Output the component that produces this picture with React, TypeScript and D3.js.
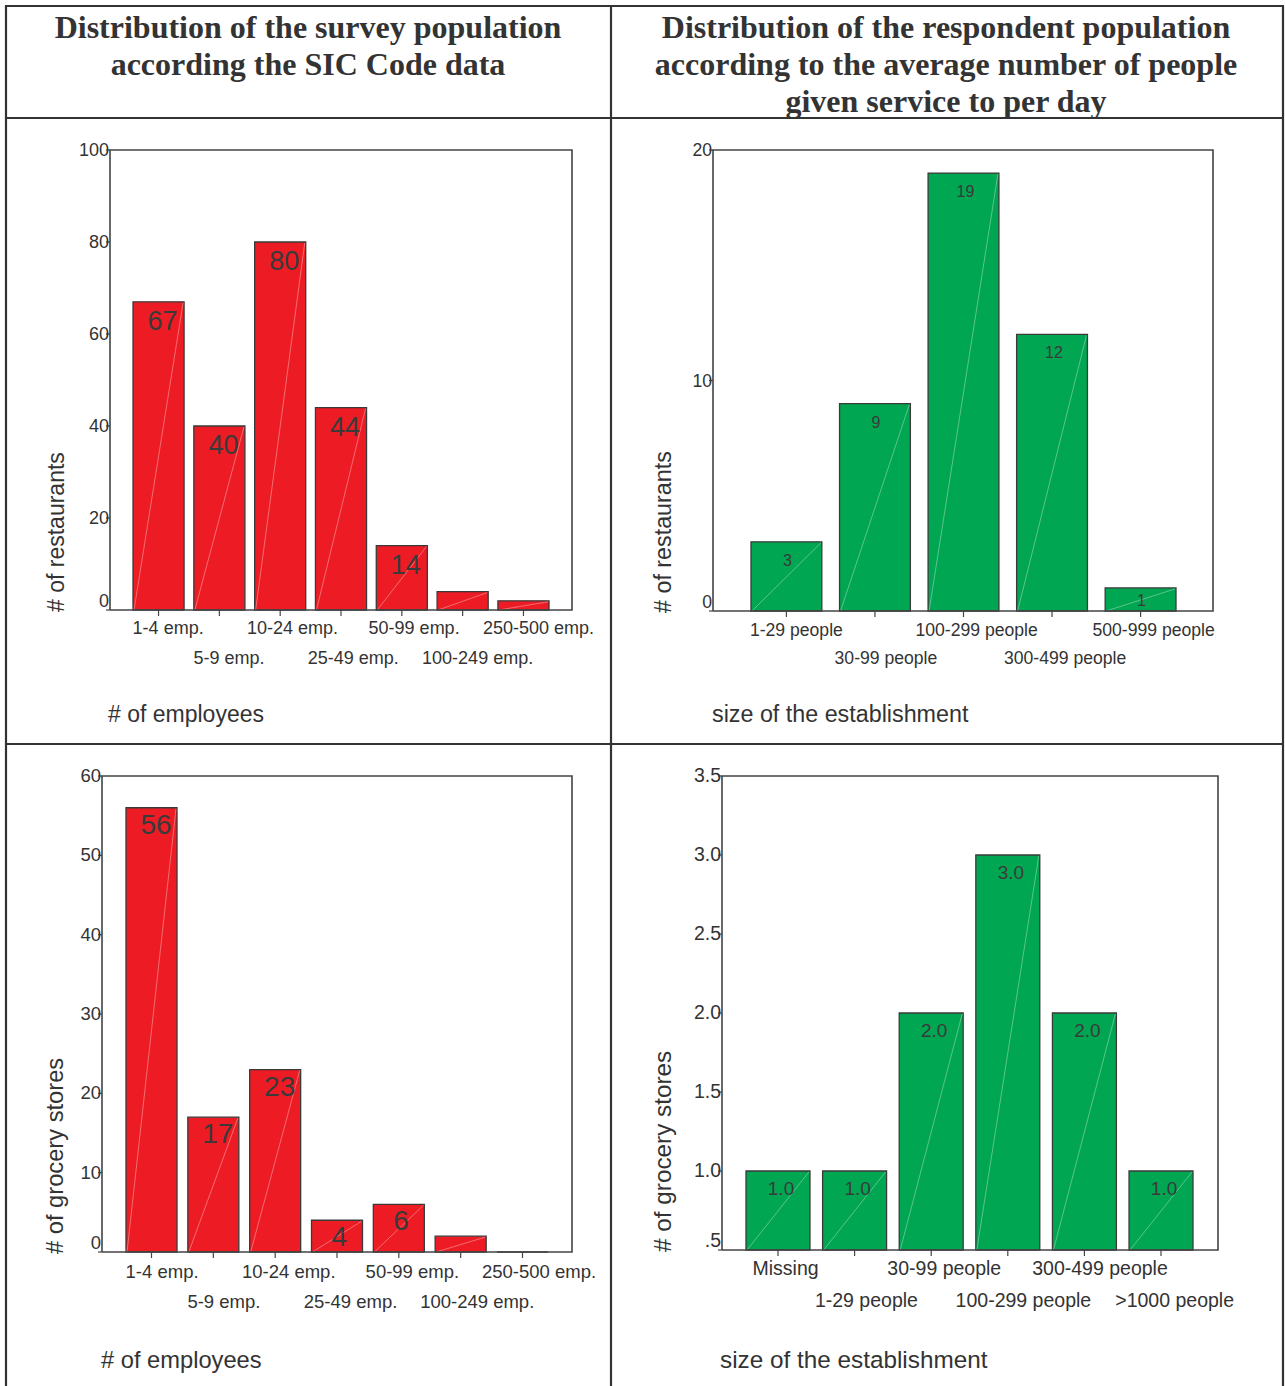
import React from 'react';
import * as d3 from 'd3';

// Employee-size classes (SIC Code data)
const employeeSizes = ['1-4 emp.', '5-9 emp.', '10-24 emp.', '25-49 emp.', '50-99 emp.', '100-249 emp.', '250-500 emp.'];
const restaurantsByEmployees = [67, 40, 80, 44, 14, 4, 2];
const groceryByEmployees = [56, 17, 23, 4, 6, 2, 0];

// People served per day (respondents)
const restaurantServiceSizes = ['1-29 people', '30-99 people', '100-299 people', '300-499 people', '500-999 people'];
const restaurantsByService = [3, 9, 19, 12, 1];
const groceryServiceSizes = ['Missing', '1-29 people', '30-99 people', '100-299 people', '300-499 people', '>1000 people'];
const groceryByService = [1, 1, 2, 3, 2, 1];

// Axis ticks
const restaurantEmpTicks = [0, 20, 40, 60, 80, 100];
const restaurantServiceTicks = [0, 10, 20];
const groceryEmpTicks = [0, 10, 20, 30, 40, 50, 60];
const groceryServiceTicks = [0.5, 1.0, 1.5, 2.0, 2.5, 3.0, 3.5];

const leftTitle = ['Distribution of the survey population', 'according the SIC Code data'];
const rightTitle = ['Distribution of the respondent population', 'according to the average number of people', 'given service to per day'];

const RED = '#ED1C24';
const GREEN = '#00A651';
const INK = '#333333';
const SANS = '"Liberation Sans", Arial, sans-serif';
const SERIF = '"Liberation Serif", "Times New Roman", serif';

// Text width helper (labels are set slightly right of their tick, by a share of their width)
let measureCtx: CanvasRenderingContext2D | null = null;
function textWidth(text: string, size: number): number {
  if (!measureCtx) measureCtx = document.createElement('canvas').getContext('2d');
  if (!measureCtx) return text.length * size * 0.55;
  measureCtx.font = `${size}px "Liberation Sans", Arial, sans-serif`;
  return measureCtx.measureText(text).width;
}

type PanelProps = {
  categories: string[];
  values: number[];
  color: string;
  domain: [number, number];
  ticks: number[];
  tickFmt: (v: number) => string;
  valueFmt: (v: number) => string;
  x0: number; x1: number; y0: number; y1: number;
  padL: number; padR: number; paddingInner: number;
  fs: number; valueFs: number; valueDy: number; shift: number;
  row1: number; row2: number;
  yTitle: string; yTitleX: number;
  xTitle: string; xTitleX: number; xTitleY: number; titleFs: number;
};

function BarPanel(p: PanelProps) {
  const x = d3.scaleBand<string>()
    .domain(p.categories)
    .range([p.x0 + p.padL, p.x1 - p.padR])
    .paddingInner(p.paddingInner)
    .paddingOuter(0);
  const y = d3.scaleLinear().domain(p.domain).range([p.y1, p.y0]);
  const base = y(p.domain[0]);
  const bw = x.bandwidth();

  return (
    <g>
      {/* bars */}
      {p.values.map((v, i) => {
        const c = p.categories[i];
        const bx = x(c) as number;
        const top = y(v);
        const d = `M${bx},${base}H${bx + bw}V${top}H${bx}Z`;
        const h = base - top;
        const labelY = Math.min(top + p.valueDy, base - 5);
        const label = p.valueFmt(v);
        return (
          <g key={c}>
            <path d={d} fill={p.color} stroke="#3a3a3a" strokeWidth={1.3} />
            {h > 1 && (
              <line x1={bx + 1} y1={base} x2={bx + bw - 1} y2={top + 1}
                stroke="#ffffff" strokeOpacity={0.5} strokeWidth={0.7} />
            )}
            {h >= 20 && (
              <text x={bx + bw / 2 + p.shift * textWidth(label, p.valueFs)} y={labelY} textAnchor="middle"
                fontSize={p.valueFs} fill="#3a3a3a" fontFamily={SANS}>
                {label}
              </text>
            )}
          </g>
        );
      })}

      {/* frame */}
      <path d={`M${p.x0},${p.y1}V${p.y0}H${p.x1}V${p.y1}H${p.x0}`} fill="none" stroke="#444" strokeWidth={1.6} />

      {/* y ticks */}
      {p.ticks.map((t, i) => (
        <g key={t}>
          <line x1={p.x0 - 4} x2={p.x0} y1={y(t)} y2={y(t)} stroke="#444" strokeWidth={1.2} />
          <text x={p.x0 - 1} y={y(t) + (i === 0 ? -3 : 6)} textAnchor="end"
            fontSize={p.fs} fill={INK} fontFamily={SANS}>
            {p.tickFmt(t)}
          </text>
        </g>
      ))}

      {/* x ticks and alternating labels */}
      {p.categories.map((c, i) => {
        const cx = (x(c) as number) + bw / 2;
        const lx = cx + p.shift * textWidth(c, p.fs);
        return (
          <g key={c}>
            <line x1={cx} x2={cx} y1={p.y1} y2={p.y1 + 6} stroke="#444" strokeWidth={1.2} />
            <text x={lx} y={i % 2 === 0 ? p.row1 : p.row2} textAnchor="middle"
              fontSize={p.fs} fill={INK} fontFamily={SANS}>
              {c}
            </text>
          </g>
        );
      })}

      {/* axis titles */}
      <text transform={`translate(${p.yTitleX},${p.y1 + 2}) rotate(-90)`} textAnchor="start"
        fontSize={p.titleFs} fill={INK} fontFamily={SANS}>
        {p.yTitle}
      </text>
      <text x={p.xTitleX} y={p.xTitleY} fontSize={p.titleFs} fill={INK} fontFamily={SANS}>
        {p.xTitle}
      </text>
    </g>
  );
}

export default function App() {
  const intFmt = (v: number) => String(v);
  const oneDec = (v: number) => {
    const s = v.toFixed(1);
    return s.startsWith('0') ? s.slice(1) : s;
  };

  return (
    <svg width={1285} height={1386} viewBox="0 0 1285 1386"
      style={{ position: 'absolute', left: 0, top: 0, background: '#fff' }}>
      <rect x={0} y={0} width={1285} height={1386} fill="#fff" />

      {/* table grid */}
      <g stroke="#333" strokeWidth={2.2} fill="none">
        <line x1={6} x2={6} y1={5} y2={1386} />
        <line x1={1283} x2={1283} y1={5} y2={1386} />
        <line x1={611} x2={611} y1={5} y2={1386} />
        <line x1={5} x2={1284} y1={6} y2={6} />
        <line x1={5} x2={1284} y1={118} y2={118} />
        <line x1={5} x2={1284} y1={744} y2={744} />
      </g>

      {/* column headings */}
      {leftTitle.map((t, i) => (
        <text key={t} x={308} y={38 + i * 37} textAnchor="middle" fontSize={32}
          fontWeight="bold" fill={INK} fontFamily={SERIF}>{t}</text>
      ))}
      {rightTitle.map((t, i) => (
        <text key={t} x={946} y={38 + i * 37} textAnchor="middle" fontSize={32}
          fontWeight="bold" fill={INK} fontFamily={SERIF}>{t}</text>
      ))}

      <BarPanel categories={employeeSizes} values={restaurantsByEmployees} color={RED}
        domain={[0, 100]} ticks={restaurantEmpTicks} tickFmt={intFmt} valueFmt={intFmt}
        x0={110} x1={572} y0={150} y1={610} padL={23} padR={23} paddingInner={0.16}
        fs={18} valueFs={27} valueDy={28} shift={0.135} row1={634} row2={664}
        yTitle="# of restaurants" yTitleX={64}
        xTitle="# of employees" xTitleX={108} xTitleY={722} titleFs={23} />

      <BarPanel categories={restaurantServiceSizes} values={restaurantsByService} color={GREEN}
        domain={[0, 20]} ticks={restaurantServiceTicks} tickFmt={intFmt} valueFmt={intFmt}
        x0={713} x1={1213} y0={150} y1={611} padL={38} padR={37} paddingInner={0.2}
        fs={17.6} valueFs={16} valueDy={24} shift={0.107} row1={636} row2={664}
        yTitle="# of restaurants" yTitleX={671}
        xTitle="size of the establishment" xTitleX={712} xTitleY={722} titleFs={23.3} />

      <BarPanel categories={employeeSizes} values={groceryByEmployees} color={RED}
        domain={[0, 60]} ticks={groceryEmpTicks} tickFmt={intFmt} valueFmt={intFmt}
        x0={102} x1={572} y0={776} y1={1252} padL={24} padR={24} paddingInner={0.175}
        fs={18.5} valueFs={28} valueDy={26} shift={0.145} row1={1278} row2={1308}
        yTitle="# of grocery stores" yTitleX={63}
        xTitle="# of employees" xTitleX={101} xTitleY={1368} titleFs={23.7} />

      <BarPanel categories={groceryServiceSizes} values={groceryByService} color={GREEN}
        domain={[0.5, 3.5]} ticks={groceryServiceTicks} tickFmt={oneDec} valueFmt={(v) => v.toFixed(1)}
        x0={722} x1={1218} y0={776} y1={1250} padL={24} padR={25} paddingInner={0.165}
        fs={19.5} valueFs={19} valueDy={24} shift={0.115} row1={1275} row2={1307}
        yTitle="# of grocery stores" yTitleX={671}
        xTitle="size of the establishment" xTitleX={720} xTitleY={1368} titleFs={24.3} />
    </svg>
  );
}
